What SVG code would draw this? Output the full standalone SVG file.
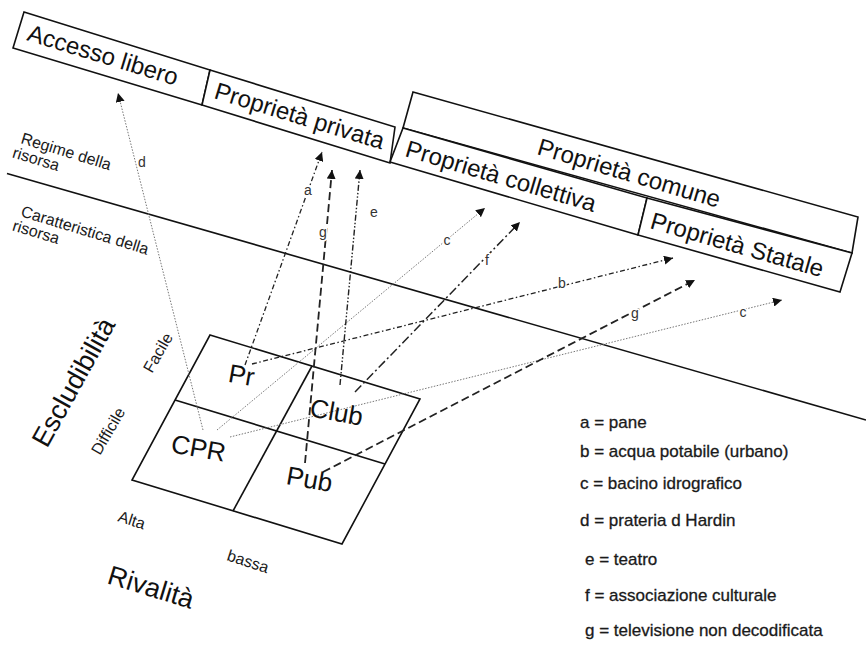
<svg xmlns="http://www.w3.org/2000/svg" width="866" height="646" viewBox="0 0 866 646">
<defs>
<style>
.box{fill:#fff;stroke:#111;stroke-width:1.6;stroke-linejoin:miter}
.bt{font-family:"Liberation Sans",Arial,sans-serif;font-size:24px;fill:#111}
.sm{font-family:"Liberation Sans",Arial,sans-serif;font-size:16px;fill:#1a1a1a}
.ax{font-family:"Liberation Sans",Arial,sans-serif;font-size:27px;fill:#111}
.cell{font-family:"Liberation Sans",Arial,sans-serif;font-size:26px;fill:#111;text-anchor:middle}
.leg{font-family:"Liberation Sans",Arial,sans-serif;font-size:17px;fill:#1a1a1a;stroke:#1a1a1a;stroke-width:0.3}
.lbl{font-family:"Liberation Sans",Arial,sans-serif;font-size:14px;fill:#333;text-anchor:middle;stroke:#fff;stroke-width:3px;paint-order:stroke}
.ln{stroke:#111;stroke-width:1.6;fill:none}
.dot{stroke:#777;stroke-width:1;stroke-dasharray:1.5 1.5;fill:none}
.dd{stroke:#222;stroke-width:1.3;stroke-dasharray:5 2.5 1.5 2.5;fill:none}
.ddd{stroke:#222;stroke-width:1.4;stroke-dasharray:6 2 1.5 2 1.5 2;fill:none}
.ld{stroke:#222;stroke-width:1.5;stroke-dasharray:9 3 2 3;fill:none}
.da{stroke:#222;stroke-width:1.8;stroke-dasharray:8 4;fill:none}
</style>
<marker id="ah" viewBox="0 0 10 10" refX="10" refY="5" markerWidth="9" markerHeight="9" markerUnits="userSpaceOnUse" orient="auto">
<path d="M0,0 L10,5 L0,10 z" fill="#111"/>
</marker>
</defs>
<rect width="866" height="646" fill="#fff"/>

<g id="regimi">
<g id="accesso-libero">
<polygon class="box" points="24,12 210,70 202,105 13,48"/>
<text class="bt" transform="translate(26,40) rotate(17)">Accesso libero</text>
</g>
<g id="proprieta-privata">
<polygon class="box" points="210,70 395,127 390,163 202,105"/>
<text class="bt" transform="translate(213,98) rotate(17)">Proprietà privata</text>
</g>
<g id="proprieta-comune">
<polygon class="box" points="413,92 858,217 852,253 403,128"/>
<text class="bt" transform="translate(536,154) rotate(16.5)">Proprietà comune</text>
</g>
<g id="proprieta-collettiva">
<polygon class="box" points="403,128 647,198 638,235 390,162"/>
<text class="bt" transform="translate(404,156) rotate(16.5)">Proprietà collettiva</text>
</g>
<g id="proprieta-statale">
<polygon class="box" points="647,198 852,253 840,292 638,235"/>
<text class="bt" transform="translate(649,228) rotate(16)">Proprietà Statale</text>
</g>
</g>

<g id="divisore">
<line class="ln" x1="7" y1="173.5" x2="866" y2="420"/>
<text class="sm" transform="translate(20,143) rotate(17)">Regime della<tspan x="-4" dy="16">risorsa</tspan></text>
<text class="sm" transform="translate(20,216) rotate(17)">Caratteristica della<tspan x="-4" dy="16">risorsa</tspan></text>
</g>

<g id="griglia">
<polygon class="box" fill="none" points="210,335 420,399 342,544 132,480"/>
<line class="ln" x1="175" y1="400" x2="385" y2="464"/>
<line class="ln" x1="312" y1="366" x2="233" y2="511"/>
</g>

<g id="assi">
<text class="ax" transform="translate(47,449) rotate(-61)">Escludibilità</text>
<text class="sm" transform="translate(152,374) rotate(-60)">Facile</text>
<text class="sm" transform="translate(100,456) rotate(-60)">Difficile</text>
<text class="sm" transform="translate(117,521) rotate(18)">Alta</text>
<text class="sm" transform="translate(226,560) rotate(18)">bassa</text>
<text class="ax" transform="translate(106,583) rotate(17)">Rivalità</text>
</g>

<g id="connettori">
<line class="dot" x1="203" y1="430" x2="118" y2="93" marker-end="url(#ah)"/>
<line class="dd" x1="245" y1="365" x2="322" y2="152" marker-end="url(#ah)"/>
<line class="dd" x1="252" y1="364" x2="673" y2="258" marker-end="url(#ah)"/>
<line class="dot" x1="217" y1="430" x2="485" y2="208" marker-end="url(#ah)"/>
<line class="dot" x1="230" y1="437" x2="782" y2="300" marker-end="url(#ah)"/>
<line class="ddd" x1="340" y1="385" x2="360" y2="170" marker-end="url(#ah)"/>
<line class="ld" x1="355" y1="392" x2="520" y2="222" marker-end="url(#ah)"/>
<line class="da" x1="305" y1="463" x2="332" y2="170" marker-end="url(#ah)"/>
<line class="da" x1="323" y1="472" x2="695" y2="280" marker-end="url(#ah)"/>
<text class="lbl" x="142" y="167">d</text>
<text class="lbl" x="308" y="195">a</text>
<text class="lbl" x="323" y="237">g</text>
<text class="lbl" x="374" y="217">e</text>
<text class="lbl" x="447" y="245">c</text>
<text class="lbl" x="487" y="265">f</text>
<text class="lbl" x="562" y="288">b</text>
<text class="lbl" x="635" y="318">g</text>
<text class="lbl" x="743" y="317">c</text>
</g>

<g id="celle">
<text class="cell" transform="translate(240,384) rotate(10)">Pr</text>
<text class="cell" transform="translate(335,421) rotate(10)">Club</text>
<text class="cell" transform="translate(197,457) rotate(10)">CPR</text>
<text class="cell" transform="translate(308,488) rotate(10)">Pub</text>
</g>

<g id="legenda">
<text class="leg" x="580" y="428">a = pane</text>
<text class="leg" x="580" y="457">b = acqua potabile (urbano)</text>
<text class="leg" x="580" y="489">c = bacino idrografico</text>
<text class="leg" x="580" y="526">d = prateria d Hardin</text>
<text class="leg" x="585" y="565">e = teatro</text>
<text class="leg" x="585" y="601">f = associazione culturale</text>
<text class="leg" x="585" y="636">g = televisione non decodificata</text>
</g>
</svg>
